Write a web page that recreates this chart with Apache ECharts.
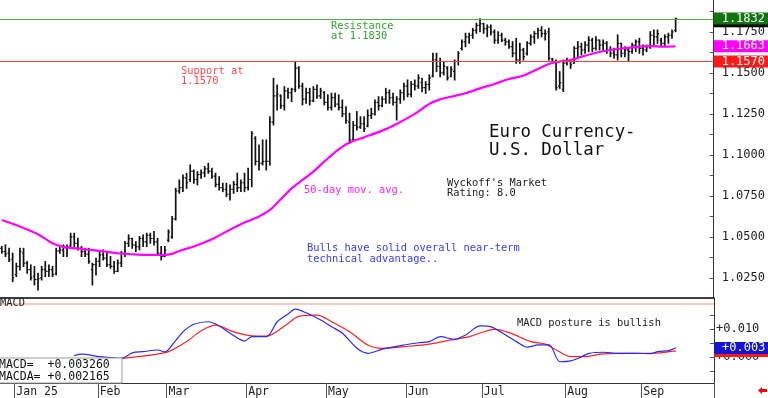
<!DOCTYPE html>
<html>
<head>
<meta charset="utf-8">
<script src="https://cdn.jsdelivr.net/npm/echarts@6/dist/echarts.min.js"></script>
<style>
  html, body { margin: 0; padding: 0; background: #fff; }
  #echarts { width: 768px; height: 398px; }
</style>
</head>
<body>
<div id="echarts"></div>
<script>
// trading-day slots, month ticks
const slotCount = 197
const monthStarts = [4, 27, 46, 68, 90, 112, 133, 156, 177]
const monthNames = ['Jan 25', 'Feb', 'Mar', 'Apr', 'May', 'Jun', 'Jul', 'Aug', 'Sep']

// daily bars (Euro FX futures)
const highs = [
  1.0441,1.0451,1.0430,1.0400,1.0339,1.0430,1.0430,1.0349,1.0329,1.0319,
  1.0278,1.0319,1.0349,1.0329,1.0319,1.0430,1.0441,1.0451,1.0451,1.0522,
  1.0522,1.0491,1.0441,1.0430,1.0430,1.0339,1.0369,1.0410,1.0420,1.0400,
  1.0380,1.0349,1.0359,1.0410,1.0471,1.0512,1.0491,1.0471,1.0502,1.0512,
  1.0522,1.0522,1.0532,1.0491,1.0441,1.0441,1.0542,1.0624,1.0796,1.0847,
  1.0878,1.0888,1.0939,1.0908,1.0898,1.0908,1.0929,1.0949,1.0918,1.0888,
  1.0867,1.0827,1.0827,1.0817,1.0837,1.0888,1.0847,1.0888,1.0918,1.1142,
  1.1111,1.1061,1.1091,1.1091,1.1233,1.1467,1.1427,1.1366,1.1416,1.1406,
  1.1406,1.1569,1.1538,1.1437,1.1406,1.1406,1.1416,1.1427,1.1406,1.1386,
  1.1366,1.1376,1.1376,1.1366,1.1335,1.1294,1.1254,1.1203,1.1264,1.1233,
  1.1233,1.1274,1.1284,1.1335,1.1355,1.1355,1.1406,1.1396,1.1376,1.1355,
  1.1396,1.1437,1.1457,1.1447,1.1457,1.1488,1.1467,1.1447,1.1488,1.1620,
  1.1620,1.1589,1.1569,1.1538,1.1538,1.1579,1.1630,1.1701,1.1742,1.1742,
  1.1772,1.1803,1.1830,1.1803,1.1793,1.1793,1.1762,1.1752,1.1742,1.1711,
  1.1701,1.1691,1.1711,1.1681,1.1650,1.1691,1.1732,1.1752,1.1772,1.1782,
  1.1762,1.1772,1.1589,1.1579,1.1508,1.1579,1.1589,1.1579,1.1660,1.1691,
  1.1681,1.1691,1.1721,1.1711,1.1721,1.1701,1.1701,1.1691,1.1660,1.1650,
  1.1732,1.1681,1.1660,1.1650,1.1681,1.1701,1.1711,1.1670,1.1670,1.1752,
  1.1762,1.1762,1.1711,1.1732,1.1742,1.1762,1.1834
]
const lows = [
  1.0400,1.0380,1.0349,1.0227,1.0258,1.0298,1.0319,1.0278,1.0237,1.0207,
  1.0176,1.0237,1.0258,1.0258,1.0258,1.0268,1.0400,1.0380,1.0380,1.0441,
  1.0441,1.0420,1.0380,1.0380,1.0339,1.0207,1.0268,1.0319,1.0359,1.0319,
  1.0308,1.0278,1.0288,1.0319,1.0380,1.0441,1.0430,1.0410,1.0420,1.0441,
  1.0441,1.0461,1.0451,1.0390,1.0359,1.0380,1.0471,1.0491,1.0603,1.0766,
  1.0776,1.0796,1.0837,1.0827,1.0817,1.0857,1.0867,1.0888,1.0857,1.0806,
  1.0786,1.0776,1.0746,1.0725,1.0766,1.0776,1.0776,1.0776,1.0786,1.0806,
  1.0939,1.0908,1.0939,1.0908,1.0939,1.1183,1.1274,1.1284,1.1274,1.1345,
  1.1325,1.1386,1.1406,1.1305,1.1315,1.1305,1.1325,1.1345,1.1345,1.1305,
  1.1274,1.1274,1.1294,1.1274,1.1233,1.1193,1.1071,1.1091,1.1152,1.1162,
  1.1142,1.1172,1.1223,1.1244,1.1274,1.1294,1.1315,1.1315,1.1305,1.1213,
  1.1315,1.1335,1.1355,1.1355,1.1396,1.1406,1.1386,1.1376,1.1396,1.1477,
  1.1508,1.1477,1.1488,1.1457,1.1477,1.1457,1.1549,1.1640,1.1660,1.1681,
  1.1711,1.1742,1.1752,1.1742,1.1721,1.1732,1.1681,1.1681,1.1691,1.1670,
  1.1650,1.1599,1.1559,1.1559,1.1579,1.1610,1.1670,1.1681,1.1711,1.1721,
  1.1701,1.1579,1.1559,1.1396,1.1406,1.1386,1.1549,1.1528,1.1559,1.1599,
  1.1610,1.1620,1.1630,1.1630,1.1640,1.1640,1.1640,1.1620,1.1599,1.1589,
  1.1579,1.1599,1.1599,1.1569,1.1620,1.1630,1.1620,1.1610,1.1630,1.1650,
  1.1670,1.1681,1.1660,1.1660,1.1681,1.1711,1.1752
]
const opens = [
  1.0430,1.0410,1.0400,1.0365,1.0270,1.0320,1.0400,1.0340,1.0300,1.0260,
  1.0240,1.0250,1.0300,1.0290,1.0300,1.0275,1.0415,1.0420,1.0430,1.0445,
  1.0500,1.0460,1.0430,1.0410,1.0395,1.0300,1.0330,1.0350,1.0390,1.0370,
  1.0330,1.0320,1.0290,1.0340,1.0400,1.0460,1.0490,1.0450,1.0440,1.0490,
  1.0470,1.0510,1.0490,1.0470,1.0400,1.0380,1.0480,1.0500,1.0610,1.0780,
  1.0800,1.0860,1.0850,1.0900,1.0850,1.0880,1.0890,1.0915,1.0900,1.0870,
  1.0820,1.0800,1.0790,1.0760,1.0790,1.0820,1.0800,1.0830,1.0800,1.0850,
  1.1100,1.0960,1.0950,1.0960,1.0960,1.1200,1.1360,1.1360,1.1300,1.1390,
  1.1380,1.1400,1.1530,1.1420,1.1340,1.1380,1.1330,1.1400,1.1360,1.1380,
  1.1320,1.1290,1.1350,1.1310,1.1290,1.1250,1.1200,1.1095,1.1180,1.1170,
  1.1190,1.1175,1.1240,1.1250,1.1320,1.1300,1.1340,1.1380,1.1350,1.1320,
  1.1340,1.1380,1.1420,1.1370,1.1430,1.1420,1.1440,1.1410,1.1430,1.1480,
  1.1580,1.1540,1.1500,1.1530,1.1480,1.1510,1.1570,1.1650,1.1690,1.1720,
  1.1730,1.1760,1.1790,1.1800,1.1770,1.1780,1.1750,1.1700,1.1730,1.1700,
  1.1690,1.1660,1.1620,1.1580,1.1640,1.1620,1.1680,1.1720,1.1740,1.1760,
  1.1740,1.1750,1.1585,1.1570,1.1420,1.1400,1.1560,1.1570,1.1560,1.1650,
  1.1660,1.1640,1.1670,1.1700,1.1650,1.1700,1.1670,1.1680,1.1640,1.1620,
  1.1610,1.1680,1.1620,1.1640,1.1630,1.1670,1.1690,1.1650,1.1640,1.1660,
  1.1730,1.1720,1.1700,1.1680,1.1720,1.1730,1.1760
]
const closes = [
  1.0410,1.0395,1.0360,1.0250,1.0320,1.0410,1.0340,1.0300,1.0250,1.0240,
  1.0245,1.0300,1.0290,1.0300,1.0270,1.0415,1.0420,1.0435,1.0440,1.0500,
  1.0460,1.0430,1.0410,1.0395,1.0350,1.0330,1.0350,1.0390,1.0370,1.0330,
  1.0320,1.0290,1.0340,1.0400,1.0460,1.0490,1.0450,1.0440,1.0490,1.0470,
  1.0510,1.0490,1.0470,1.0400,1.0380,1.0420,1.0530,1.0610,1.0780,1.0800,
  1.0860,1.0830,1.0900,1.0850,1.0880,1.0890,1.0915,1.0900,1.0870,1.0820,
  1.0800,1.0790,1.0760,1.0790,1.0820,1.0800,1.0830,1.0800,1.0850,1.1130,
  1.0960,1.0950,1.0960,1.0960,1.1200,1.1360,1.1370,1.1300,1.1390,1.1380,
  1.1400,1.1530,1.1420,1.1340,1.1380,1.1330,1.1400,1.1360,1.1390,1.1320,
  1.1290,1.1350,1.1310,1.1290,1.1250,1.1210,1.1090,1.1180,1.1170,1.1190,
  1.1160,1.1240,1.1250,1.1320,1.1300,1.1340,1.1380,1.1350,1.1320,1.1340,
  1.1380,1.1420,1.1370,1.1430,1.1420,1.1470,1.1410,1.1430,1.1470,1.1580,
  1.1540,1.1500,1.1540,1.1470,1.1520,1.1570,1.1620,1.1690,1.1720,1.1730,
  1.1760,1.1790,1.1800,1.1770,1.1780,1.1750,1.1700,1.1730,1.1700,1.1690,
  1.1660,1.1620,1.1580,1.1640,1.1600,1.1680,1.1720,1.1740,1.1760,1.1740,
  1.1740,1.1590,1.1570,1.1410,1.1440,1.1560,1.1570,1.1550,1.1650,1.1660,
  1.1640,1.1670,1.1700,1.1650,1.1700,1.1670,1.1680,1.1640,1.1620,1.1610,
  1.1680,1.1620,1.1640,1.1630,1.1670,1.1690,1.1650,1.1640,1.1660,1.1730,
  1.1720,1.1740,1.1680,1.1720,1.1730,1.1750,1.1832
]

// 50-day moving average, read at [slot, value]
const maPts = [
  [0,1.0603],[5,1.0563],[10,1.0516],[14,1.0461],[17,1.0439],[22,1.0426],[27,1.0414],
  [32,1.0400],[36,1.0394],[41,1.0390],[45,1.0390],[47,1.0396],[49,1.0414],[53,1.0441],
  [58,1.0485],[62,1.0532],[67,1.0587],[71,1.0624],[74,1.0664],[77,1.0729],[80,1.0796],
  [83,1.0847],[86,1.0898],[89,1.0959],[93,1.1034],[96,1.1075],[100,1.1107],[105,1.1148],
  [109,1.1189],[114,1.1250],[118,1.1311],[121,1.1339],[124,1.1355],[128,1.1376],
  [132,1.1406],[136,1.1433],[140,1.1463],[144,1.1484],[148,1.1524],[151,1.1555],
  [154,1.1569],[157,1.1579],[160,1.1599],[165,1.1628],[170,1.1646],[174,1.1656],
  [179,1.1664],[183,1.1660],[186,1.1663]
]

// MACD (blue) and signal (red), [slot, value]
const macdPts = [
  [20,0.0005],[22,0.0010],[27,0.0001],[30,-0.0002],[33,-0.0005],[36,0.0015],[39,0.0019],
  [43,0.0025],[45,0.0018],[47,0.0043],[50,0.0090],[53,0.0117],[57,0.0126],[60,0.0111],
  [63,0.0085],[67,0.0057],[69,0.0073],[73,0.0073],[76,0.0126],[79,0.0154],[81,0.0171],
  [84,0.0158],[88,0.0132],[91,0.0108],[94,0.0085],[98,0.0031],[101,0.0013],[105,0.0028],
  [111,0.0043],[115,0.0051],[118,0.0055],[121,0.0073],[125,0.0063],[128,0.0079],
  [132,0.0111],[135,0.0108],[139,0.0079],[142,0.0055],[145,0.0035],[148,0.0043],
  [151,0.0043],[154,-0.0017],[157,-0.0014],[160,0.0001],[162,0.0013],[166,0.0017],
  [170,0.0013],[175,0.0013],[179,0.0012],[181,0.0019],[184,0.0023],[186,0.0033]
]
const signalPts = [
  [20,-0.0012],[27,-0.0010],[33,-0.0005],[41,0.0007],[46,0.0019],[51,0.0055],[55,0.0094],
  [59,0.0114],[64,0.0090],[69,0.0076],[73,0.0075],[79,0.0120],[82,0.0146],[87,0.0150],
  [91,0.0126],[96,0.0090],[101,0.0043],[105,0.0031],[111,0.0037],[118,0.0046],[124,0.0061],
  [129,0.0073],[136,0.0099],[140,0.0087],[146,0.0055],[150,0.0046],[153,0.0025],
  [157,0.0001],[161,0.0001],[165,0.0010],[170,0.0013],[179,0.0013],[186,0.0022]
]

const priceTicks = [1.025, 1.05, 1.075, 1.1, 1.125, 1.15, 1.175]
const resistance = 1.1830
const support = 1.1570
const lastPrice = 1.1832
const prevMarker = 1.1815
const maLast = 1.1663
const macdLast = 0.003260
const macdaLast = 0.002165
const macdBand = 0.0189

const MONO = '"DejaVu Sans Mono", monospace'
const cats = Array.from({length: slotCount}, (_, i) => String(i))
const bars = highs.map((h, i) => [i, opens[i], h, lows[i], closes[i]])

function renderBar(params, api) {
  const i = api.value(0)
  const hi = api.coord([i, api.value(2)])
  const lo = api.coord([i, api.value(3)])
  const op = api.coord([i, api.value(1)])
  const cl = api.coord([i, api.value(4)])
  const w = api.size([1, 0])[0] * 0.42
  const st = {stroke: '#111', lineWidth: 1.7}
  return {
    type: 'group',
    children: [
      {type: 'line', shape: {x1: hi[0], y1: hi[1] - 0.5, x2: lo[0], y2: lo[1] + 0.5}, style: st},
      {type: 'line', shape: {x1: op[0] - w, y1: op[1], x2: op[0], y2: op[1]}, style: {stroke: '#111', lineWidth: 1.2}},
      {type: 'line', shape: {x1: cl[0], y1: cl[1], x2: cl[0] + w, y2: cl[1]}, style: {stroke: '#111', lineWidth: 1.2}}
    ]
  }
}

// value tag on the right edge, anchored to the axis value
function boxLabel(bg, text) {
  return {
    show: true, position: 'end', distance: 0, formatter: text,
    align: 'left', verticalAlign: 'middle',
    backgroundColor: bg, color: '#fff', fontFamily: MONO, fontSize: 12,
    padding: [1, 4, 0, 8], lineHeight: 11, width: 44
  }
}
// markLine block that only carries tags (its line is invisible)
function tagLines(items) {
  return {
    silent: true, symbol: ['none', 'none'], animation: false, precision: 6,
    emphasis: {disabled: true},
    lineStyle: {color: 'rgba(255,255,255,0)', width: 1, type: 'solid'},
    data: items.map(([v, bg, text]) => ({yAxis: v, label: boxLabel(bg, text)}))
  }
}

const myChart = echarts.init(document.getElementById('echarts'), null, {renderer: 'canvas'})
myChart.setOption({
  animation: false,
  backgroundColor: '#fff',
  grid: [
    {left: 0, top: 0, width: 714, height: 298},
    {left: 0, top: 298, width: 714, height: 85}
  ],
  xAxis: [
    {
      type: 'category', gridIndex: 0, data: cats, boundaryGap: true,
      axisLine: {show: true, onZero: false, lineStyle: {color: '#000', width: 1.5}},
      axisTick: {show: false}, axisLabel: {show: false}, splitLine: {show: false}
    },
    {
      type: 'category', gridIndex: 1, data: cats, boundaryGap: true, position: 'bottom',
      axisLine: {show: true, onZero: false, lineStyle: {color: '#333', width: 1}},
      axisTick: {
        show: true, length: 15, inside: false,
        interval: (idx) => monthStarts.includes(idx),
        lineStyle: {color: '#555', width: 1}
      },
      axisLabel: {
        show: true, margin: 3, align: 'left',
        interval: (idx) => monthStarts.includes(idx),
        formatter: (v, idx) => monthNames[monthStarts.indexOf(idx)] || '',
        fontFamily: MONO, fontSize: 11.5, color: '#222'
      },
      splitLine: {show: false}
    }
  ],
  yAxis: [
    {
      type: 'value', gridIndex: 0, position: 'right', min: 1.0127, max: 1.1945,
      axisLine: {show: true, lineStyle: {color: '#333', width: 1}},
      axisTick: {show: true, inside: true, length: 4, lineStyle: {color: '#555'},
        customValues: [1.025, 1.0375, 1.05, 1.0625, 1.075, 1.0875, 1.1, 1.1125, 1.125, 1.1375, 1.15, 1.1625, 1.175, 1.1875]},
      axisLabel: {
        show: true, margin: 8, customValues: priceTicks,
        formatter: (v) => v.toFixed(4), fontFamily: MONO, fontSize: 12, color: '#222'
      },
      splitLine: {show: false}
    },
    {
      type: 'value', gridIndex: 1, position: 'right', min: -0.0093, max: 0.0211,
      axisLine: {show: true, lineStyle: {color: '#333', width: 1}},
      axisTick: {show: true, inside: true, length: 4, lineStyle: {color: '#555'},
        customValues: [-0.005, 0, 0.005, 0.01, 0.015]},
      axisLabel: {
        show: true, margin: 2, customValues: [0, 0.01],
        formatter: (v) => '+' + v.toFixed(3), fontFamily: MONO, fontSize: 12, color: '#222'
      },
      splitLine: {show: false}
    }
  ],
  series: [
    {
      name: 'bars', type: 'custom', xAxisIndex: 0, yAxisIndex: 0, clip: false,
      renderItem: renderBar, data: bars, encode: {x: 0, y: [1, 2, 3, 4]}, z: 3,
      markLine: tagLines([
        [prevMarker, '#000', ' '],
        [lastPrice, '#0f760f', lastPrice.toFixed(4)],
        [maLast, '#ff00ff', maLast.toFixed(4)],
        [support, '#ff1a1a', support.toFixed(4)]
      ])
    },
    {
      name: 'ma50', type: 'line', xAxisIndex: 0, yAxisIndex: 0, data: maPts,
      showSymbol: false, smooth: 0.3, z: 4,
      lineStyle: {color: '#ff00ff', width: 2.2},
      markLine: {
        silent: true, symbol: ['none', 'none'], animation: false, precision: 6,
        emphasis: {disabled: true}, label: {show: false},
        data: [
          {yAxis: resistance, lineStyle: {color: '#4caf4c', width: 1, type: 'solid', opacity: 1}},
          {yAxis: support, lineStyle: {color: '#ff4040', width: 1, type: 'solid', opacity: 1}}
        ]
      }
    },
    {
      name: 'MACDA', type: 'line', xAxisIndex: 1, yAxisIndex: 1, data: signalPts,
      showSymbol: false, smooth: 0.3, z: 3, clip: false,
      lineStyle: {color: '#ff2020', width: 1.2},
      markLine: tagLines([
        [macdaLast, '#ff1a1a', '+' + macdaLast.toFixed(3)],
        [macdLast, '#1414d6', '+' + macdLast.toFixed(3)]
      ])
    },
    {
      name: 'MACD', type: 'line', xAxisIndex: 1, yAxisIndex: 1, data: macdPts,
      showSymbol: false, smooth: 0.3, z: 4,
      lineStyle: {color: '#2a2aff', width: 1.2},
      markLine: {
        silent: true, symbol: ['none', 'none'], animation: false, precision: 6,
        emphasis: {disabled: true}, label: {show: false},
        lineStyle: {color: '#ffc4c4', width: 2, type: 'solid', opacity: 1},
        data: [{yAxis: macdBand}]
      }
    }
  ],
  graphic: [
    {type: 'text', x: 331, y: 21, z: 50, style: {text: 'Resistance\nat 1.1830', font: '10.4px ' + MONO, fill: '#34a034', lineHeight: 10}},
    {type: 'text', x: 181, y: 66, z: 50, style: {text: 'Support at\n1.1570', font: '10.4px ' + MONO, fill: '#ff4a4a', lineHeight: 10}},
    {type: 'text', x: 489, y: 124, z: 50, style: {text: 'Euro Currency-\nU.S. Dollar', font: '17.4px ' + MONO, fill: '#111', lineHeight: 17.5}},
    {type: 'text', x: 447, y: 178, z: 50, style: {text: "Wyckoff's Market\nRating: 8.0", font: '10.4px ' + MONO, fill: '#222', lineHeight: 10.5}},
    {type: 'text', x: 304, y: 185, z: 50, style: {text: '50-day mov. avg.', font: '10.4px ' + MONO, fill: '#ff22ff'}},
    {type: 'text', x: 307, y: 243, z: 50, style: {text: 'Bulls have solid overall near-term\ntechnical advantage..', font: '10.4px ' + MONO, fill: '#3a3aff', lineHeight: 11}},
    {type: 'text', x: 517, y: 318, z: 50, style: {text: 'MACD posture is bullish', font: '10.4px ' + MONO, fill: '#222'}},
    {type: 'text', x: 0, y: 298.5, z: 50, style: {text: 'MACD', font: '10.4px ' + MONO, fill: '#222'}},
    {type: 'rect', z: 100, shape: {x: -1, y: 358, width: 123, height: 25}, style: {fill: '#fff', stroke: '#9a9a9a', lineWidth: 1}},
    {type: 'text', x: -1, y: 359, z: 101, style: {text: 'MACD=  +' + macdLast.toFixed(6), font: '11.5px ' + MONO, fill: '#111'}},
    {type: 'text', x: -1, y: 371, z: 101, style: {text: 'MACDA= +' + macdaLast.toFixed(6), font: '11.5px ' + MONO, fill: '#111'}},
    {type: 'polygon', z: 50, shape: {points: [[758, 390.5], [762, 387], [762, 389], [767, 389], [767, 392], [762, 392], [762, 394]]}, style: {fill: '#ff0000'}}
  ]
})
</script>
</body>
</html>
